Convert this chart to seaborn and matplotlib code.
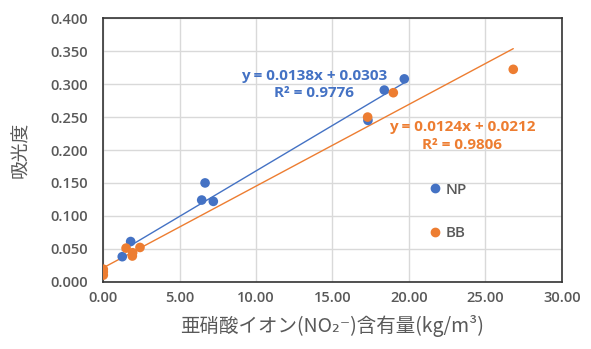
import numpy as np
import pandas as pd
import seaborn as sns
import matplotlib.pyplot as plt
from matplotlib.lines import Line2D

# NP
np_x = [1.24, 1.79, 6.44, 6.66, 7.20, 17.32, 18.39, 19.70]
np_y = [0.038, 0.061, 0.124, 0.150, 0.122, 0.245, 0.291, 0.308]
# BB
bb_x = [0.0, 0.0, 0.0, 1.49, 1.90, 1.92, 2.40, 17.30, 18.98, 26.83]
bb_y = [0.010, 0.015, 0.019, 0.051, 0.039, 0.044, 0.052, 0.250, 0.287, 0.3225]

np_fit = (0.0138, 0.0303, 0.9776)
bb_fit = (0.0124, 0.0212, 0.9806)

xticks = [0, 5, 10, 15, 20, 25, 30]
yticks = [0.0, 0.05, 0.1, 0.15, 0.2, 0.25, 0.3, 0.35, 0.4]

blue = '#4472C4'
orange = '#ED7D31'
gray = '#595959'

sns.set_style('white')
plt.rcParams['font.family'] = ['Open Sans', 'Noto Sans CJK JP', 'DejaVu Sans']

df = pd.concat([
    pd.DataFrame({'x': np_x, 'y': np_y, 's': 'NP'}),
    pd.DataFrame({'x': bb_x, 'y': bb_y, 's': 'BB'}),
])

fig = plt.figure(figsize=(5.91, 3.49), dpi=100)
ax = fig.add_axes([103.3 / 591, (349 - 281.7) / 349, 458.4 / 591, 263.4 / 349])

# trendlines over each series' data range
for xs, (a, b, r2), c in [(np_x, np_fit, blue), (bb_x, bb_fit, orange)]:
    lx = np.array([min(xs), max(xs)])
    sns.lineplot(x=lx, y=a * lx + b, color=c, lw=1.0, ax=ax, zorder=2)

sns.scatterplot(data=df, x='x', y='y', hue='s', palette={'NP': blue, 'BB': orange},
                s=48, edgecolor='none', ax=ax, zorder=3, legend=False)

ax.set_xlim(0, 30)
ax.set_ylim(0, 0.4)
ax.set_xticks(xticks)
ax.set_yticks(yticks)
ax.set_xticklabels([f'{v:.2f}' for v in xticks])
ax.set_yticklabels([f'{v:.3f}' for v in yticks])
ax.tick_params(colors=gray, labelsize=10.5, length=0)
ax.tick_params(axis='x', pad=7)
ax.tick_params(axis='y', pad=11)
for lab in ax.get_xticklabels() + ax.get_yticklabels():
    lab.set_fontweight('semibold')
ax.grid(True, color='#d9d9d9', lw=1)
for sp in ax.spines.values():
    sp.set_color('#333333')
    sp.set_linewidth(1.2)

ax.set_xlabel('亜硝酸イオン(NO₂⁻)含有量(kg/m³)', fontsize=14, color=gray, labelpad=7,
              family=['Noto Sans CJK JP', 'DejaVu Sans'])
ax.set_ylabel('吸光度', fontsize=13.5, color=gray, labelpad=14,
              family=['Noto Sans CJK JP', 'DejaVu Sans'])

ax.text(13.79, 0.300, f'y = {np_fit[0]}x + {np_fit[1]}\nR² = {np_fit[2]}', color=blue,
        fontsize=11, ha='center', va='center', linespacing=1.3, fontweight='bold')
ax.text(23.5, 0.2213, f'y = {bb_fit[0]}x + {bb_fit[1]}\nR² = {bb_fit[2]}', color=orange,
        fontsize=11, ha='center', va='center', linespacing=1.3, fontweight='bold')

# legend
handles = [Line2D([], [], ls='', marker='o', color=blue, markersize=6),
           Line2D([], [], ls='', marker='o', color=orange, markersize=6)]
ax.legend(handles, ['NP', 'BB'], frameon=False, loc='center left',
          bbox_to_anchor=(0.68, 0.2665), labelspacing=1.95, handlelength=0.8,
          handletextpad=0.3, labelcolor=gray,
          prop={'weight': 'semibold', 'size': 11})

fig.savefig('out.png', dpi=100)
